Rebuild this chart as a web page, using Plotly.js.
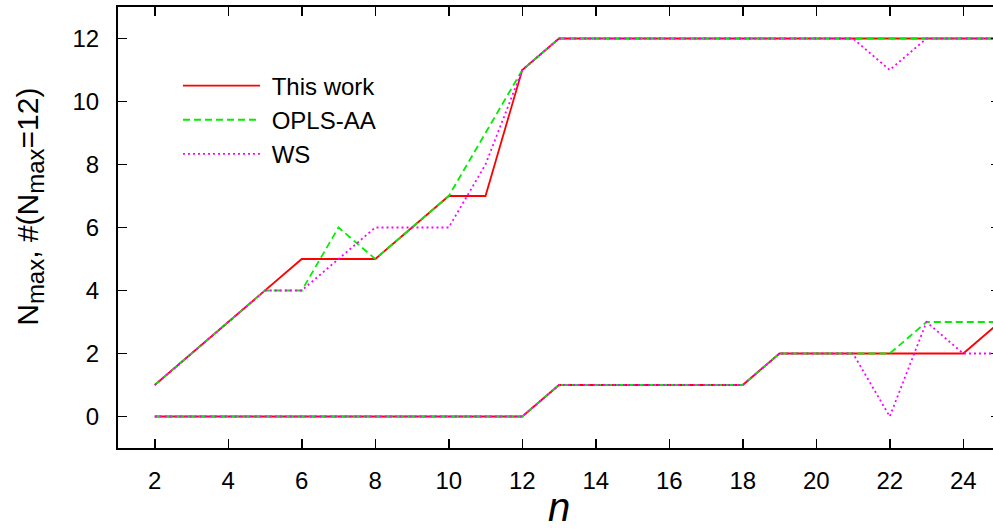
<!DOCTYPE html>
<html>
<head>
<meta charset="utf-8">
<script src="https://cdn.plot.ly/plotly-3.0.1.min.js"></script>
<style>
html, body { margin: 0; padding: 0; overflow: hidden; background: #fff; }
#chart { width: 1002px; height: 529px; }
</style>
</head>
<body>
<div id="chart"></div>
<script>
// Data
const n = [2,3,4,5,6,7,8,9,10,11,12,13,14,15,16,17,18,19,20,21,22,23,24,25];
// N_max
const nmaxThisWork = [1,2,3,4,5,5,5,6,7,7,11,12,12,12,12,12,12,12,12,12,12,12,12,12];
const nmaxOPLS     = [1,2,3,4,4,6,5,6,7,9,11,12,12,12,12,12,12,12,12,12,12,12,12,12];
const nmaxWS       = [1,2,3,4,4,5,6,6,6,8,11,12,12,12,12,12,12,12,12,12,11,12,12,12];
// #(N_max = 12)
const countThisWork = [0,0,0,0,0,0,0,0,0,0,0,1,1,1,1,1,1,2,2,2,2,2,2,3];
const countOPLS     = [0,0,0,0,0,0,0,0,0,0,0,1,1,1,1,1,1,2,2,2,2,3,3,3];
const countWS       = [0,0,0,0,0,0,0,0,0,0,0,1,1,1,1,1,1,2,2,2,0,3,2,2];

const seriesNames = ['This work', 'OPLS-AA', 'WS'];
const xTicks = [2,4,6,8,10,12,14,16,18,20,22,24];
const yTicks = [0,2,4,6,8,10,12];
const yTitle = 'N<sub><span style="font-size:24px">max</span></sub>, #(N<sub><span style="font-size:24px">max</span></sub>=12)';

const styles = [
  {color: '#ff0000', width: 1.8, dash: 'solid'},
  {color: '#00ee00', width: 1.8, dash: '7px,4px'},
  {color: '#ff00ff', width: 1.8, dash: '2px,3px'}
];
const upper = [nmaxThisWork, nmaxOPLS, nmaxWS];
const lower = [countThisWork, countOPLS, countWS];

const traces = [];
for (let i = 0; i < 3; i++) {
  traces.push({x: n, y: upper[i], type: 'scatter', mode: 'lines', name: '\u00a0' + seriesNames[i],
    line: styles[i], showlegend: true, hoverinfo: 'skip'});
  traces.push({x: n, y: lower[i], type: 'scatter', mode: 'lines', name: seriesNames[i],
    line: styles[i], showlegend: false, hoverinfo: 'skip'});
}

const fam = '"Liberation Sans", Arial, sans-serif';
const font = {family: fam, size: 24, color: '#000'};

const layout = {
  width: 1002, height: 529,
  margin: {l: 118, r: 2, t: 7, b: 81},
  paper_bgcolor: '#fff', plot_bgcolor: '#fff',
  font: font,
  showlegend: true,
  legend: {x: 0.068, y: 0.872, xanchor: 'left', yanchor: 'top',
    bgcolor: 'rgba(0,0,0,0)', font: {family: fam, size: 24, color: '#000'},
    itemwidth: 77, tracegroupgap: 0},
  xaxis: {
    range: [1, 25], tickvals: xTicks, ticktext: xTicks.map(String),
    ticks: 'inside', ticklen: 9, tickwidth: 1.5, tickcolor: '#000',
    showline: true, linecolor: '#000', linewidth: 2, mirror: 'ticks',
    showgrid: false, zeroline: false, ticklabelstandoff: 10,
    tickfont: {family: fam, size: 24, color: '#000'},
    title: {text: '<i>n</i>', font: {family: fam, size: 40, color: '#000'}, standoff: 9}
  },
  yaxis: {
    range: [-1, 13], tickvals: yTicks, ticktext: yTicks.map(String),
    ticks: 'inside', ticklen: 9, tickwidth: 1.5, tickcolor: '#000',
    showline: true, linecolor: '#000', linewidth: 2, mirror: 'ticks',
    showgrid: false, zeroline: false, ticklabelstandoff: 12,
    tickfont: {family: fam, size: 24, color: '#000'}
  },
  annotations: [{
    text: yTitle, xref: 'paper', yref: 'paper',
    x: -0.1, y: 0.5465, xanchor: 'center', yanchor: 'middle',
    textangle: -90, showarrow: false,
    font: {family: fam, size: 30, color: '#000'}
  }]
};

Plotly.newPlot('chart', traces, layout, {displayModeBar: false, staticPlot: true});
</script>
</body>
</html>
